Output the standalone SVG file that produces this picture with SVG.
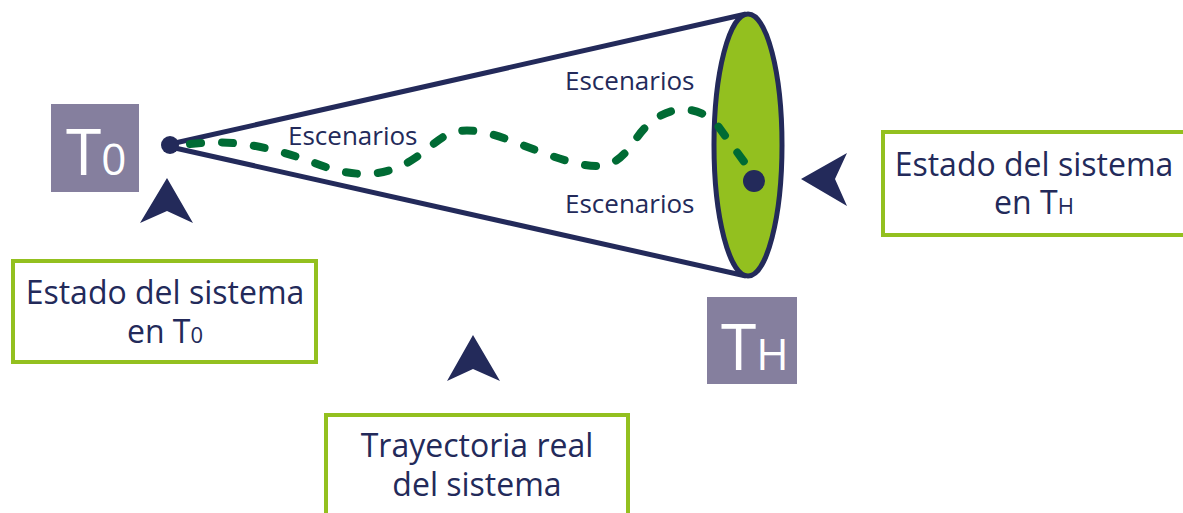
<svg xmlns="http://www.w3.org/2000/svg" width="1183" height="513" viewBox="0 0 1183 513">
<style>
text{font-family:"Open Sans","Noto Sans","Liberation Sans",sans-serif;fill:#232a5a}
.lbl{font-size:32px;text-anchor:middle}
.esc{font-size:26px}
.tbox{fill:#857f9e}
.tt{fill:#ffffff;font-size:64px}
.box{fill:#ffffff;stroke:#93c01f;stroke-width:4}
.arrow{fill:#232a5a}
.edge{stroke:#232a5a;stroke-width:5;fill:none}
</style>
<g id="connectors">
<line class="edge" x1="175" y1="143" x2="746" y2="14"/>
<line class="edge" x1="175" y1="148" x2="746" y2="276"/>
</g>
<g id="cone-end">
<ellipse cx="748" cy="145" rx="34" ry="131" fill="#93c01f" stroke="#232a5a" stroke-width="5"/>
</g>
<g id="trajectory">
<path d="M190,144 C 240,138 280,150 320,165 S 390,175 415,158 S 445,128 475,131 S 545,158 585,165 S 628,142 650,123 S 700,105 718,126 L 745,163" fill="none" stroke="#006b34" stroke-width="8" stroke-linecap="round" stroke-dasharray="11 21"/>
</g>
<g id="start-dot"><circle cx="170" cy="145" r="9" fill="#232a5a"/></g>
<g id="end-dot"><circle cx="754" cy="181" r="11" fill="#232a5a"/></g>
<g id="labels-escenarios">
<text class="esc" x="288" y="145">Escenarios</text>
<text class="esc" x="565" y="90">Escenarios</text>
<text class="esc" x="565" y="213">Escenarios</text>
</g>
<g id="T0">
<rect class="tbox" x="51" y="104" width="88" height="88"/>
<text class="tt" x="66" y="175">T<tspan font-size="44">0</tspan></text>
</g>
<g id="TH">
<rect class="tbox" x="707" y="297" width="90" height="87"/>
<text class="tt" x="721" y="370">T<tspan font-size="44">H</tspan></text>
</g>
<g id="arrow-t0"><polygon class="arrow" points="167,178 193,223 167,211 140,223"/></g>
<g id="arrow-mid"><polygon class="arrow" points="473,335 500,381 473,369 447,381"/></g>
<g id="arrow-th"><polygon class="arrow" points="801,179 847,153 835,179 847,206"/></g>
<g id="box-t0">
<rect class="box" x="13" y="261" width="303" height="101"/>
<text class="lbl" x="165" y="304">Estado del sistema</text>
<text class="lbl" x="165" y="343">en T<tspan font-size="22">0</tspan></text>
</g>
<g id="box-th">
<rect class="box" x="883" y="132" width="310" height="103"/>
<text class="lbl" x="1034" y="176">Estado del sistema</text>
<text class="lbl" x="1034" y="214">en T<tspan font-size="22">H</tspan></text>
</g>
<g id="box-trajectory">
<rect class="box" x="326" y="415" width="302" height="110"/>
<text class="lbl" x="477" y="457">Trayectoria real</text>
<text class="lbl" x="477" y="496">del sistema</text>
</g>
</svg>
